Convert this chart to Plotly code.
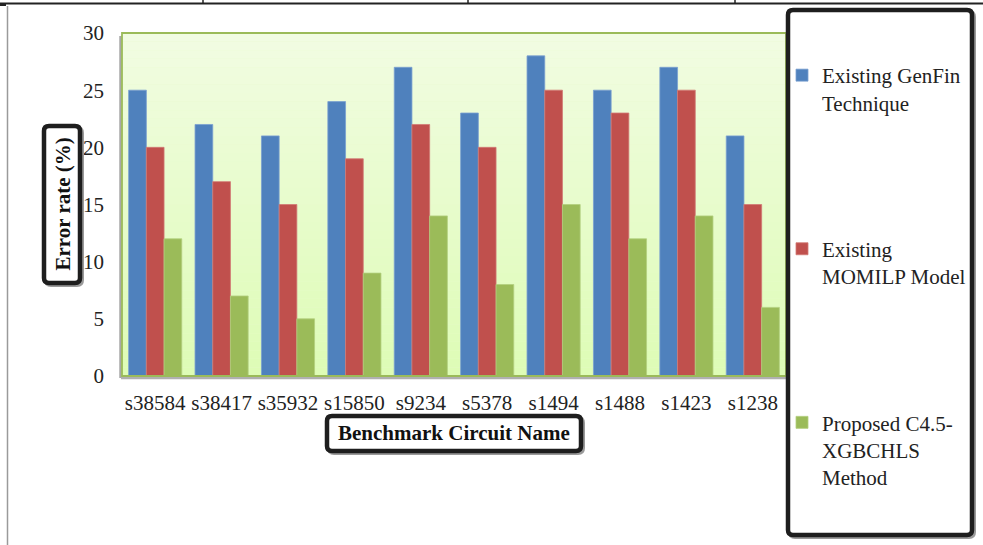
import plotly.graph_objects as go

# Benchmark circuits and error rates (%) for each method
circuits = ["s38584", "s38417", "s35932", "s15850", "s9234",
            "s5378", "s1494", "s1488", "s1423", "s1238"]
genfin = [25, 22, 21, 24, 27, 23, 28, 25, 27, 21]
momilp = [20, 17, 15, 19, 22, 20, 25, 23, 25, 15]
c45_xgbchls = [12, 7, 5, 9, 14, 8, 15, 12, 14, 6]

series_names = ["Existing GenFin<br>Technique",
                "Existing<br>MOMILP Model",
                "Proposed C4.5-<br>XGBCHLS<br>Method"]
y_ticks = [0, 5, 10, 15, 20, 25, 30]

W, H = 983, 545
L, R, T, B = 122, 786, 33, 376   # plot area in pixels
FONT = "Liberation Serif, Times New Roman, serif"


def px(x):
    return (x - L) / (R - L)


def py(y):
    return (B - y) / (B - T)


fig = go.Figure()
colors = ["#4F81BD", "#C0504D", "#9BBB59"]
edges = ["#7A9FD0", "#D27875", "#B3CF7E"]
for i, (vals, name) in enumerate(zip([genfin, momilp, c45_xgbchls], series_names)):
    fig.add_trace(go.Bar(
        x=circuits, y=vals, name=name, legendgroup=f"g{i}",
        marker=dict(color=colors[i], line=dict(color=edges[i], width=0.8)),
    ))

shapes = []

# vertical gradient behind the bars
n = 40
top_c = (241, 252, 226)
bot_c = (222, 252, 182)
for k in range(n):
    t = k / (n - 1)
    c = tuple(round(top_c[j] + (bot_c[j] - top_c[j]) * t) for j in range(3))
    shapes.append(dict(type="rect", xref="x domain", yref="y domain",
                       x0=0, x1=1, y0=1 - (k + 1) / n, y1=1 - k / n,
                       fillcolor=f"rgb{c}", line=dict(width=0), layer="below"))

# plot frame: soft shadow on the left/bottom, green outline
shapes.append(dict(type="line", xref="paper", yref="paper",
                   x0=px(120.5), x1=px(120.5), y0=py(378), y1=py(36),
                   line=dict(color="#A8A8A8", width=2.5)))
shapes.append(dict(type="line", xref="paper", yref="paper",
                   x0=px(121), x1=px(787), y0=py(378), y1=py(378),
                   line=dict(color="#B0B0B0", width=2.5)))
shapes.append(dict(type="rect", xref="paper", yref="paper",
                   x0=0, x1=1, y0=0, y1=1,
                   line=dict(color="#9BBB59", width=1.8)))


def rounded_box(x0, y0, x1, y1, r=5):
    """Rounded rectangle path given in pixel coordinates."""
    rx, ry = r / (R - L), r / (B - T)
    X0, X1 = px(x0), px(x1)
    Y0, Y1 = py(y0), py(y1)   # Y0 top, Y1 bottom
    return (f"M{X0 + rx},{Y0} L{X1 - rx},{Y0} Q{X1},{Y0} {X1},{Y0 - ry} "
            f"L{X1},{Y1 + ry} Q{X1},{Y1} {X1 - rx},{Y1} "
            f"L{X0 + rx},{Y1} Q{X0},{Y1} {X0},{Y1 + ry} "
            f"L{X0},{Y0 - ry} Q{X0},{Y0} {X0 + rx},{Y0} Z")


for (x0, y0, x1, y1) in [(788, 10, 972, 535), (44, 126, 80, 283), (327, 416, 581, 451)]:
    shapes.append(dict(type="path", xref="paper", yref="paper",
                       path=rounded_box(x0 + 2, y0 + 2, x1 + 2, y1 + 2),
                       line=dict(color="#9A9A9A", width=4)))
    shapes.append(dict(type="path", xref="paper", yref="paper",
                       path=rounded_box(x0, y0, x1, y1),
                       fillcolor="white", line=dict(color="#1E1E1E", width=4.5)))

# page rules around the chart
shapes.append(dict(type="line", xref="paper", yref="paper",
                   x0=px(0), x1=px(983), y0=py(3.5), y1=py(3.5),
                   line=dict(color="#222222", width=2)))
for xv in [203, 468, 735]:
    shapes.append(dict(type="line", xref="paper", yref="paper",
                       x0=px(xv), x1=px(xv), y0=py(0), y1=py(4),
                       line=dict(color="#222222", width=1.5)))
shapes.append(dict(type="line", xref="paper", yref="paper",
                   x0=px(0), x1=px(6), y0=py(5), y1=py(5),
                   line=dict(color="#222222", width=2)))
shapes.append(dict(type="line", xref="paper", yref="paper",
                   x0=px(7.5), x1=px(7.5), y0=py(6), y1=py(545),
                   line=dict(color="#9A9A9A", width=1.5)))

annotations = [
    dict(text="<b>Error rate (%)</b>", xref="paper", yref="paper",
         x=px(62), y=py(204.5), textangle=-90, showarrow=False,
         xanchor="center", yanchor="middle",
         font=dict(family=FONT, size=21, color="#111111")),
    dict(text="<b>Benchmark Circuit Name</b>", xref="paper", yref="paper",
         x=px(454), y=py(433.5), showarrow=False,
         xanchor="center", yanchor="middle",
         font=dict(family=FONT, size=21, color="#111111")),
]

fig.update_layout(
    width=W, height=H,
    margin=dict(l=L, r=W - R, t=T, b=H - B, autoexpand=False),
    paper_bgcolor="white", plot_bgcolor="#E8FBCC",
    barmode="group", bargap=0.2, bargroupgap=0,
    font=dict(family=FONT, size=21, color="#222222"),
    shapes=shapes, annotations=annotations,
    showlegend=True,
    legend=dict(x=782 / W, y=1 - 55 / H, xref="container", yref="container",
                xanchor="left", yanchor="top", maxheight=500,
                traceorder="grouped", tracegroupgap=116, valign="top",
                bgcolor="rgba(0,0,0,0)", borderwidth=0, itemwidth=30,
                font=dict(family=FONT, size=21, color="#222222")),
)
fig.update_xaxes(showgrid=False, showline=False, ticks="", ticklabelstandoff=12,
                 tickfont=dict(family=FONT, size=21, color="#222222"))
fig.update_yaxes(range=[0, 30], tickvals=y_ticks, showgrid=False, zeroline=False,
                 showline=False, ticks="", ticklabelstandoff=17,
                 tickfont=dict(family=FONT, size=21, color="#222222"))

fig.write_html("out.html")
